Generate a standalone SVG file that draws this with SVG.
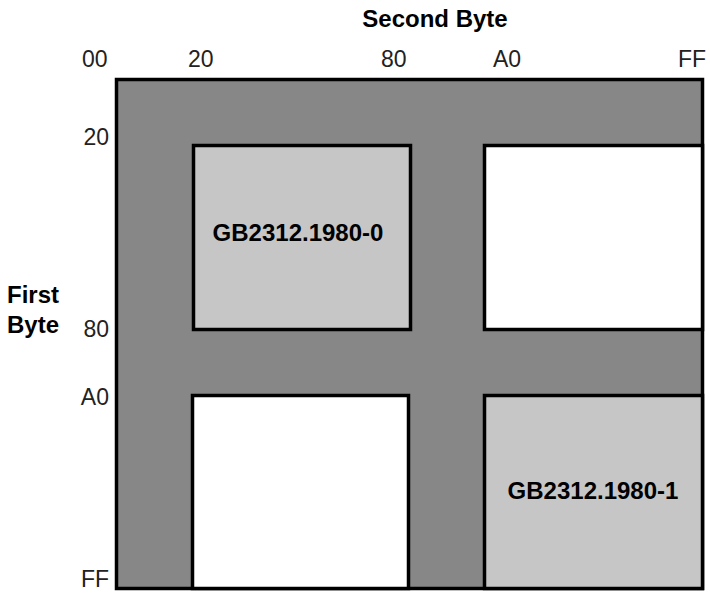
<svg xmlns="http://www.w3.org/2000/svg" width="710" height="593" viewBox="0 0 710 593">
  <style>
    .lbl { font-family: "Liberation Sans", Arial, sans-serif; font-size: 23px; fill: #222; }
    .bold { font-family: "Liberation Sans", Arial, sans-serif; font-size: 24px; font-weight: bold; fill: #000; }
    .frame { fill: #878787; stroke: #000; stroke-width: 3.5; }
    .cell { stroke: #000; stroke-width: 3.5; }
    .used { fill: #c6c6c6; }
    .free { fill: #fff; }
  </style>
  <rect width="710" height="593" fill="#fff"/>

  <g id="axis-second-byte">
    <text class="bold" x="435" y="27" text-anchor="middle">Second Byte</text>
    <text class="lbl" x="82" y="67">00</text>
    <text class="lbl" x="188" y="67">20</text>
    <text class="lbl" x="381" y="67">80</text>
    <text class="lbl" x="493" y="67">A0</text>
    <text class="lbl" x="678" y="67">FF</text>
  </g>

  <g id="axis-first-byte">
    <text class="bold" x="7" y="303">First</text>
    <text class="bold" x="7" y="333">Byte</text>
    <text class="lbl" x="109" y="145" text-anchor="end">20</text>
    <text class="lbl" x="109" y="337" text-anchor="end">80</text>
    <text class="lbl" x="109" y="405" text-anchor="end">A0</text>
    <text class="lbl" x="109" y="587" text-anchor="end">FF</text>
  </g>

  <g id="code-space">
    <rect class="frame" x="116.5" y="79.5" width="586" height="509"/>
  </g>

  <g id="gb2312-0">
    <rect class="cell used" x="193.5" y="145.5" width="217" height="184"/>
    <text class="bold" x="298" y="241" text-anchor="middle">GB2312.1980-0</text>
  </g>

  <g id="upper-right">
    <rect class="cell free" x="484.5" y="145.5" width="218" height="184"/>
  </g>

  <g id="lower-left">
    <rect class="cell free" x="192.5" y="395.5" width="216" height="193"/>
  </g>

  <g id="gb2312-1">
    <rect class="cell used" x="484.5" y="395.5" width="218" height="193"/>
    <text class="bold" x="593" y="499" text-anchor="middle">GB2312.1980-1</text>
  </g>

  <g id="connectors"></g>
</svg>
